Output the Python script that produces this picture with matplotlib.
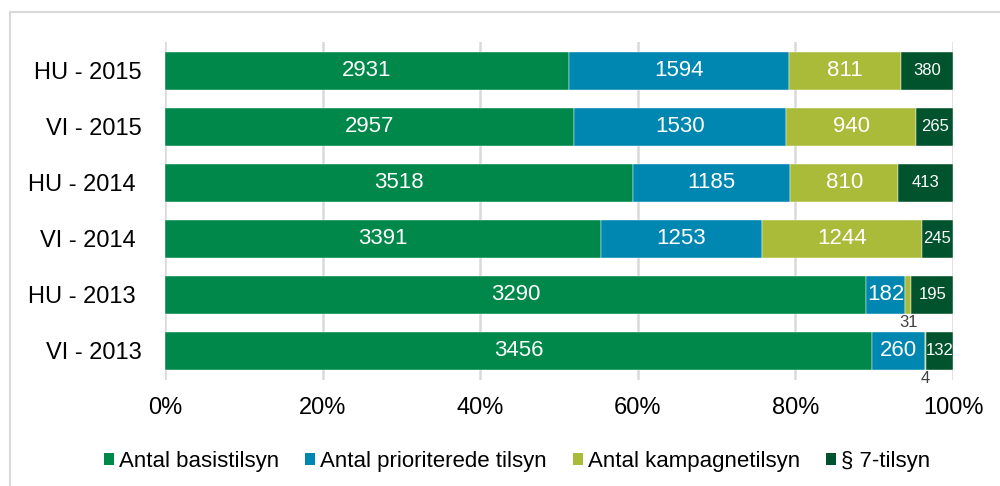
import numpy as np
import matplotlib.pyplot as plt
from matplotlib.patches import Patch
from matplotlib.lines import Line2D

plt.rcParams['font.family'] = ['Liberation Sans', 'DejaVu Sans']

# data (some source labels carry a trailing space)
categories = ["HU - 2015", "VI - 2015", "HU - 2014 ", "VI - 2014 ", "HU - 2013 ", "VI - 2013"]
basis = [2931, 2957, 3518, 3391, 3290, 3456]
prioriterede = [1594, 1530, 1185, 1253, 182, 260]
kampagne = [811, 940, 810, 1244, 31, 4]
par7 = [380, 265, 413, 245, 195, 132]
series_names = ["Antal basistilsyn", "Antal prioriterede tilsyn", "Antal kampagnetilsyn", "§ 7-tilsyn"]
colors = ["#00884B", "#0087B1", "#AABB39", "#00532C"]
xticks = [0, 20, 40, 60, 80, 100]

data = np.array([basis, prioriterede, kampagne, par7], dtype=float)
totals = data.sum(axis=0)
shares = data / totals * 100

fig = plt.figure(figsize=(10, 4.86), dpi=100)
ax = fig.add_axes([0.165, 0.218, 0.788, 0.696])

y = np.arange(len(categories))
left = np.zeros(len(categories))
for i in range(4):
    ax.barh(y, shares[i], left=left, height=0.68, color=colors[i],
            edgecolor="white", linewidth=0.3, zorder=3)
    for j in range(len(categories)):
        cx = left[j] + shares[i][j] / 2
        val = int(data[i][j])
        if shares[i][j] < 2:
            # too narrow: label goes under the bar
            ax.text(cx, y[j] + 0.34 + 0.16, str(val), ha="center", va="center",
                    fontsize=12, color="#404040", zorder=4)
        else:
            fs = 12 if i == 3 else 16
            ax.text(cx, y[j], str(val), ha="center", va="center",
                    fontsize=fs, color="white", zorder=4)
    left = left + shares[i]

ax.set_xlim(0, 100)
ax.set_ylim(5.52, -0.52)
ax.set_yticks(y)
ax.set_yticklabels(categories, fontsize=17)
ax.set_xticks(xticks)
ax.set_xticklabels([f"{t}%" for t in xticks], fontsize=17)
ax.tick_params(axis="both", length=0)
ax.tick_params(axis="x", pad=12)
ax.tick_params(axis="y", pad=16.5)
ax.grid(axis="x", color="#D9D9D9", linewidth=1.8, zorder=0)
for s in ax.spines.values():
    s.set_visible(False)

handles = [Patch(facecolor=c, edgecolor="none") for c in colors]
fig.legend(handles, series_names, loc="center", bbox_to_anchor=(0.517, 0.051),
           ncol=4, frameon=False, fontsize=16, handlelength=0.45, handleheight=0.45,
           handletextpad=0.2, columnspacing=1.2)

# outer frame (only left and top visible in the crop)
fig.add_artist(Line2D([0.010, 0.010], [0, 1 - 12 / 486], color="#D9D9D9", linewidth=1.5))
fig.add_artist(Line2D([0.010, 1.0], [1 - 12 / 486, 1 - 12 / 486], color="#D9D9D9", linewidth=1.5))

fig.savefig("out.png", dpi=100)
